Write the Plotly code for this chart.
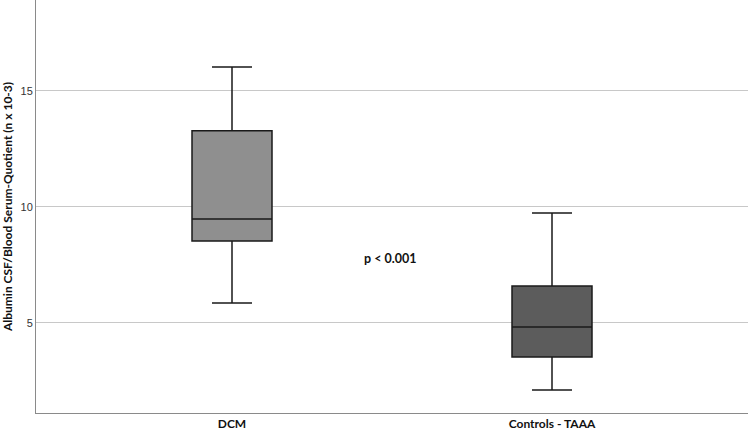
import plotly.graph_objects as go

# Datos (cuartiles y bigotes)
grupos = ["DCM", "Controls - TAAA"]
bigote_sup = [16.03, 9.74]
q3 = [13.28, 6.59]
mediana = [9.48, 4.83]
q1 = [8.53, 3.53]
bigote_inf = [5.86, 2.11]
colores = ["#8f8f8f", "#5c5c5c"]

fig = go.Figure()

for i, g in enumerate(grupos):
    fig.add_trace(go.Box(
        x=[g],
        q1=[q1[i]], median=[mediana[i]], q3=[q3[i]],
        lowerfence=[bigote_inf[i]], upperfence=[bigote_sup[i]],
        fillcolor=colores[i],
        line=dict(color="#1a1a1a", width=1.5),
        width=0.25,
        whiskerwidth=0.5,
        boxpoints=False,
        showlegend=False,
        hoverinfo="skip",
    ))

fig.add_annotation(x=0.494, y=7.8, text="<b>p < 0.001</b>", showarrow=False,
                   font=dict(family="Lato, Open Sans, sans-serif", size=12.5, color="#111111"))

fig.update_layout(
    width=749, height=432,
    margin=dict(l=36, r=1, t=0, b=19),
    plot_bgcolor="white", paper_bgcolor="white",
    xaxis=dict(
        type="category", range=[-0.6125, 1.6125],
        showline=True, linecolor="#8a8a8a", linewidth=1,
        showgrid=False, ticks="", automargin=False,
        tickfont=dict(family="Lato, Open Sans, sans-serif", size=12, color="#111111"),
        tickvals=grupos, ticktext=["<b>DCM</b>", "<b>Controls - TAAA</b>"],
    ),
    yaxis=dict(
        range=[1.12, 18.92],
        tickvals=[5, 10, 15],
        showline=True, linecolor="#8a8a8a", linewidth=1,
        showgrid=True, gridcolor="#c8c8c8", gridwidth=1,
        zeroline=False, ticks="", automargin=False,
        tickfont=dict(family="Liberation Sans, Arial, sans-serif", size=11, color="#333333"),
        title=dict(text="<b>Albumin CSF/Blood Serum-Quotient (n x 10-3)</b>", standoff=6,
                   font=dict(family="Lato, Open Sans, sans-serif", size=12, color="#111111")),
    ),
)

# quitar el margen por defecto del body para que el gráfico quede en (0,0)
fig.write_html("out.html", config={"displayModeBar": False},
               post_script="document.body.style.margin='0';")
